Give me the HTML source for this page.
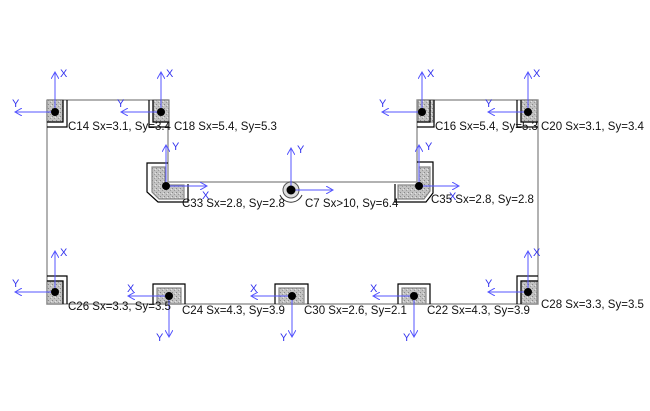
<!DOCTYPE html>
<html><head><meta charset="utf-8"><style>
html,body{margin:0;padding:0;background:#fff;}
svg{display:block;}
text{font-family:"Liberation Sans",sans-serif;font-size:11.5px;fill:#111;}
.b text{fill:#3333ee;font-size:11px;}
</style></head><body>
<svg width="650" height="411" viewBox="0 0 650 411" xmlns="http://www.w3.org/2000/svg">
<defs>
<pattern id="h" width="4" height="4" patternUnits="userSpaceOnUse">
<rect width="4" height="4" fill="#c2c2c2"/>
<rect x="0" y="0" width="1" height="1" fill="#888"/>
<rect x="2" y="2" width="1" height="1" fill="#999"/>
<rect x="3" y="1" width="1" height="1" fill="#e4e4e4"/>
</pattern>
<marker id="a" markerWidth="8" markerHeight="8" refX="7" refY="4" orient="auto" markerUnits="userSpaceOnUse">
<path d="M0,0 L7,4 L0,8" fill="none" stroke="#5555ff" stroke-width="1"/>
</marker>
</defs>
<polyline points="47,100 168,100 168,182 417,182 417,100 538,100 538,304 47,304 47,100" fill="none" stroke="#999" stroke-width="1.5"/>

<g stroke="#000" stroke-width="1.2">
<rect x="47" y="100" width="16" height="22" fill="url(#h)" stroke="#888"/>
<polyline points="63,100 63,122 47,122" fill="none"/>
<polyline points="67,100 67,127 47,127" fill="none"/>
<rect x="153" y="100" width="16" height="22" fill="url(#h)" stroke="#888"/>
<polyline points="153,100 153,122 169,122" fill="none"/>
<polyline points="149,100 149,127 169,127" fill="none"/>
<rect x="418" y="100" width="16" height="22" fill="url(#h)" stroke="#888"/>
<polyline points="430,100 430,122 417,122" fill="none"/>
<polyline points="434,100 434,127 417,127" fill="none"/>
<rect x="521" y="100" width="16" height="22" fill="url(#h)" stroke="#888"/>
<polyline points="521,100 521,122 538,122" fill="none"/>
<polyline points="517,100 517,127 538,127" fill="none"/>
<polygon points="152,167 165,167 165,185 184,185 184,199 159,199 152,192" fill="url(#h)" stroke="#888"/>
<polyline points="188,184 188,202 158,202 147,192 147,163 168,163" fill="none"/>
<polygon points="419,167 430,167 430,191 424,199 398,199 398,185 419,185" fill="url(#h)" stroke="#888"/>
<polyline points="395,184 395,202 426,202 433,193 433,162 417,162" fill="none"/>
<rect x="47" y="281" width="16" height="23" fill="url(#h)" stroke="#888"/>
<polyline points="47,281 63,281 63,304" fill="none"/>
<polyline points="47,276 67,276 67,304" fill="none"/>
<rect x="157" y="288" width="24" height="16" fill="url(#h)" stroke="#888"/>
<polyline points="153,304 153,284 185,284 185,304" fill="none"/>
<rect x="279" y="288" width="25" height="16" fill="url(#h)" stroke="#888"/>
<polyline points="275,304 275,284 308,284 308,304" fill="none"/>
<rect x="402" y="288" width="24" height="16" fill="url(#h)" stroke="#888"/>
<polyline points="398,304 398,284 430,284 430,304" fill="none"/>
<rect x="521" y="281" width="16" height="23" fill="url(#h)" stroke="#888"/>
<polyline points="538,281 521,281 521,304" fill="none"/>
<polyline points="538,276 517,276 517,304" fill="none"/>
</g>
<circle cx="291" cy="190" r="8" fill="#ddd" stroke="#555" stroke-width="1"/>
<path d="M280,195 A12,12 0 0 0 302,195" fill="none" stroke="#333" stroke-width="1"/>

<g stroke="#5555ff" stroke-width="1" fill="none">
<line x1="55" y1="112" x2="55" y2="72" marker-end="url(#a)"/><line x1="55" y1="112" x2="15" y2="112" marker-end="url(#a)"/>
<line x1="161" y1="112" x2="161" y2="72" marker-end="url(#a)"/><line x1="161" y1="112" x2="121" y2="112" marker-end="url(#a)"/>
<line x1="422" y1="112" x2="422" y2="72" marker-end="url(#a)"/><line x1="422" y1="112" x2="382" y2="112" marker-end="url(#a)"/>
<line x1="528" y1="112" x2="528" y2="72" marker-end="url(#a)"/><line x1="528" y1="112" x2="488" y2="112" marker-end="url(#a)"/>
<line x1="166" y1="186" x2="166" y2="145" marker-end="url(#a)"/><line x1="166" y1="186" x2="207" y2="186" marker-end="url(#a)"/>
<line x1="291" y1="190" x2="291" y2="148" marker-end="url(#a)"/><line x1="291" y1="190" x2="333" y2="190" marker-end="url(#a)"/>
<line x1="419" y1="186" x2="419" y2="145" marker-end="url(#a)"/><line x1="419" y1="186" x2="459" y2="186" marker-end="url(#a)"/>
<line x1="55" y1="292" x2="55" y2="251" marker-end="url(#a)"/><line x1="55" y1="292" x2="15" y2="292" marker-end="url(#a)"/>
<line x1="169" y1="296" x2="128" y2="296" marker-end="url(#a)"/><line x1="169" y1="296" x2="169" y2="337" marker-end="url(#a)"/>
<line x1="292" y1="296" x2="251" y2="296" marker-end="url(#a)"/><line x1="292" y1="296" x2="292" y2="337" marker-end="url(#a)"/>
<line x1="414" y1="296" x2="373" y2="296" marker-end="url(#a)"/><line x1="414" y1="296" x2="414" y2="337" marker-end="url(#a)"/>
<line x1="528" y1="292" x2="528" y2="251" marker-end="url(#a)"/><line x1="528" y1="292" x2="488" y2="292" marker-end="url(#a)"/>
</g>
<g fill="#000">
<circle cx="55" cy="112" r="4"/><circle cx="161" cy="112" r="4"/><circle cx="422" cy="112" r="4"/><circle cx="528" cy="112" r="4"/>
<circle cx="166" cy="186" r="4"/><circle cx="291" cy="190" r="4.5"/><circle cx="419" cy="186" r="4"/>
<circle cx="55" cy="292" r="4"/><circle cx="169" cy="296" r="4"/><circle cx="292" cy="296" r="4"/><circle cx="414" cy="296" r="4"/><circle cx="528" cy="292" r="4"/>
</g>
<g class="b">
<text x="60" y="77">X</text><text x="12" y="107">Y</text>
<text x="166" y="77">X</text><text x="117" y="107">Y</text>
<text x="427" y="77">X</text><text x="379" y="107">Y</text>
<text x="533" y="77">X</text><text x="485" y="107">Y</text>
<text x="172" y="150">Y</text><text x="202" y="199">X</text>
<text x="297" y="153">Y</text>
<text x="425" y="150">Y</text><text x="449" y="200">X</text>
<text x="60" y="256">X</text><text x="12" y="287">Y</text>
<text x="127" y="292">X</text><text x="156" y="341">Y</text>
<text x="250" y="292">X</text><text x="280" y="341">Y</text>
<text x="370" y="292">X</text><text x="403" y="341">Y</text>
<text x="533" y="256">X</text><text x="485" y="287">Y</text>
</g>
<text x="68" y="130">C14 Sx=3.1, Sy=3.4</text>
<text x="174" y="130">C18 Sx=5.4, Sy=5.3</text>
<text x="435" y="130">C16 Sx=5.4, Sy=5.3</text>
<text x="541" y="130">C20 Sx=3.1, Sy=3.4</text>
<text x="182" y="207">C33 Sx=2.8, Sy=2.8</text>
<text x="305" y="207">C7 Sx&gt;10, Sy=6.4</text>
<text x="431" y="203">C35 Sx=2.8, Sy=2.8</text>
<text x="68" y="310">C26 Sx=3.3, Sy=3.5</text>
<text x="182" y="314">C24 Sx=4.3, Sy=3.9</text>
<text x="304" y="314">C30 Sx=2.6, Sy=2.1</text>
<text x="427" y="314">C22 Sx=4.3, Sy=3.9</text>
<text x="541" y="308">C28 Sx=3.3, Sy=3.5</text>
</svg>
</body></html>
